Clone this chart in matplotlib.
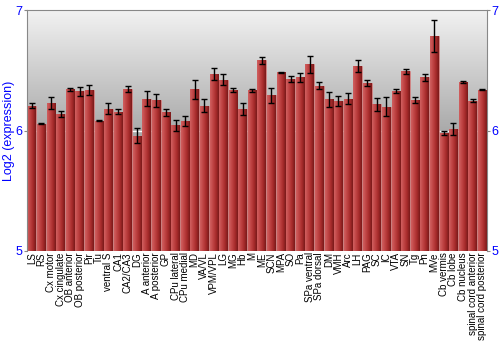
import matplotlib
matplotlib.use("Agg")
import matplotlib.pyplot as plt
import numpy as np
from matplotlib.colors import LinearSegmentedColormap

plt.rcParams['font.family'] = ['Liberation Sans', 'DejaVu Sans']

regions = ["LS", "RS", "Cx motor", "Cx cingulate", "OB anterior", "OB posterior", "Pir", "Tu",
           "ventral S", "CA1", "CA2/CA3", "DG", "A anterior", "A posterior", "GP", "CPu lateral",
           "CPu medial", "MD", "VA/VL", "VPM/VPL", "LG", "MG", "Hb", "M", "ME", "SCN", "MPA", "SO",
           "Pa", "SPa ventral", "SPa dorsal", "DM", "VMH", "Arc", "LH", "PAG", "SC", "IC", "VTA",
           "SN", "Tg", "Pn", "MVe", "Cb vermis", "Cb lobe", "Cb nucleus",
           "spinal cord anterior", "spinal cord posterior"]

log2_expr = [6.206, 6.058, 6.230, 6.136, 6.342, 6.328, 6.339, 6.083,
             6.183, 6.156, 6.347, 5.958, 6.264, 6.250, 6.150, 6.042,
             6.078, 6.344, 6.208, 6.472, 6.422, 6.339, 6.178, 6.333, 6.583, 6.292, 6.486, 6.425,
             6.442, 6.550, 6.372, 6.258, 6.244, 6.264, 6.536, 6.397, 6.217, 6.197, 6.331,
             6.492, 6.256, 6.442, 6.789, 5.978, 6.014, 6.403,
             6.247, 6.339]

err = [0.020, 0.004, 0.050, 0.025, 0.010, 0.037, 0.040, 0.005,
       0.048, 0.022, 0.025, 0.060, 0.064, 0.057, 0.028, 0.047,
       0.043, 0.078, 0.053, 0.050, 0.047, 0.017, 0.050, 0.010, 0.028, 0.064, 0.004, 0.025,
       0.037, 0.070, 0.028, 0.060, 0.039, 0.046, 0.047, 0.025, 0.053, 0.080, 0.017,
       0.022, 0.025, 0.028, 0.133, 0.017, 0.050, 0.010,
       0.014, 0.005]

fig = plt.figure(figsize=(5, 3.5), dpi=100)
ax = fig.add_axes([0.054, 0.283, 0.92, 0.688])

x = np.arange(len(regions))
ax.set_xlim(-0.5, len(regions) - 0.5)
ax.set_ylim(5, 7)

# grey vertical gradient background
bg = LinearSegmentedColormap.from_list("bg", ["#9c9c9c", "#aaaaaa", "#f2f2f2"])
grad = np.linspace(0, 1, 256).reshape(-1, 1)
ax.imshow(grad, cmap=bg, aspect="auto", origin="lower",
          extent=[-0.5, len(regions) - 0.5, 5, 7], zorder=0)

ax.axhline(6, color="white", lw=1, zorder=1)

bars = ax.bar(x, np.array(log2_expr) - 5, bottom=5, width=0.9,
              color="#b33333", edgecolor="#d88a8a", linewidth=0.5, zorder=2)

# cylinder-like shading on each bar
barmap = LinearSegmentedColormap.from_list("bar", ["#d06060", "#c04545", "#a82c2c", "#7a1a1a"])
hgrad = np.linspace(0, 1, 64).reshape(1, -1)
for b in bars:
    im = ax.imshow(hgrad, cmap=barmap, aspect="auto",
                   extent=[b.get_x(), b.get_x() + b.get_width(), b.get_y(), b.get_y() + b.get_height()],
                   zorder=2.5)
    im.set_clip_path(b)

ax.errorbar(x, log2_expr, yerr=err, fmt="none", ecolor="black", elinewidth=1,
            capsize=2, capthick=1, zorder=3)

ax.set_yticks([5, 6, 7])
ax.tick_params(axis="y", colors="#888888", labelcolor="blue", labelsize=9, length=2, pad=1,
               right=True, labelright=True)
ax.set_xticks(x)
ax.set_xticklabels(regions, rotation=90, fontsize=7)
ax.tick_params(axis="x", length=0, pad=1)
ax.set_ylabel("Log2 (expression)", color="blue", fontsize=9)
ax.yaxis.set_label_coords(-0.026, 0.5)

for s in ax.spines.values():
    s.set_color("#888888")
ax.spines["bottom"].set_visible(False)

fig.savefig("out.png", dpi=100)
